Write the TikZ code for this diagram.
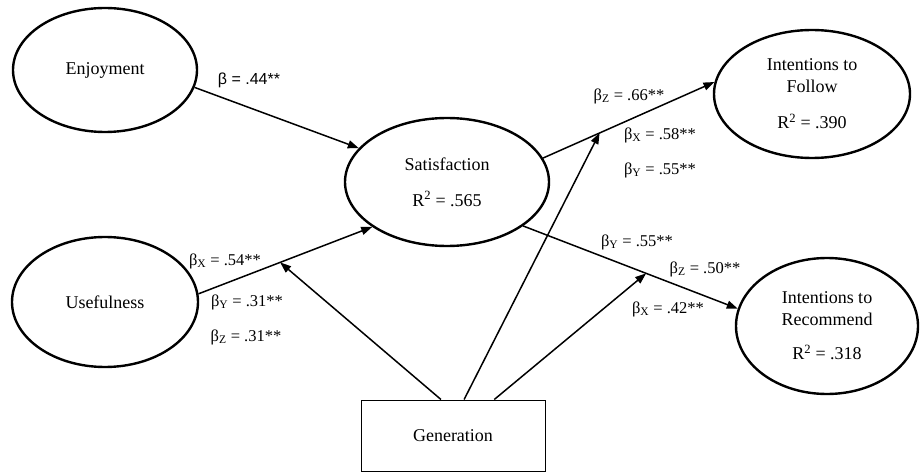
\documentclass[tikz,border=0pt]{standalone}
\usepackage{fontspec}
\setmainfont{Liberation Serif}
\newfontfamily\sansf{Liberation Sans}
\usetikzlibrary{arrows.meta,calc,shapes.geometric}
\begin{document}
\begin{tikzpicture}[x=1pt,y=-1pt,
  var/.style={ellipse, draw, line width=2.4pt, inner sep=0pt, align=center,
    font=\fontsize{18}{22}\selectfont},
  genbox/.style={draw, line width=1pt, inner sep=0pt, font=\fontsize{18}{22}\selectfont},
  arr/.style={-{Triangle[length=11pt,width=8pt]}, line width=1.5pt},
  lab/.style={inner sep=0pt, font=\fontsize{16.5}{18}\selectfont}]
\useasboundingbox (0,0) rectangle (923,473);

\node[var, minimum width=184pt, minimum height=124pt] (enj) at (105,70) {Enjoyment};
\node[var, minimum width=186pt, minimum height=130pt] (use) at (105,302) {Usefulness};
\node[var, minimum width=204pt, minimum height=128pt] (sat) at (447,182)
  {Satisfaction\\[14pt]R\textsuperscript{2} = .565};
\node[var, minimum width=196pt, minimum height=128pt] (fol) at (812,94)
  {Intentions to\\Follow\\[14pt]R\textsuperscript{2} = .390};
\node[var, minimum width=182pt, minimum height=136pt] (rec) at (827,326)
  {Intentions to\\Recommend\\[12pt]R\textsuperscript{2} = .318};
\node[genbox, minimum width=184pt, minimum height=71pt] (gen) at (453,435.5) {Generation};

\draw[arr] (enj.-11) -- (sat.159);
\draw[arr] (use.5) -- coordinate[pos=0.47] (m1) (sat.211);
\draw[arr] (sat.14) -- coordinate[pos=0.33] (m2) (fol.173);
\draw[arr] (sat.-30) -- coordinate[pos=0.573] (m3) (rec.169);

\draw[arr] ($(gen.north west)!0.435!(gen.north east)$) -- (m1);
\draw[arr] ($(gen.north west)!0.56!(gen.north east)$) -- (m2);
\draw[arr] ($(gen.north west)!0.723!(gen.north east)$) -- (m3);

\node[lab, font=\sansf\fontsize{16}{18}\selectfont] (l1) at (249,80) {β = .44**};
\node[lab] (l2) at (225,261) {β\textsubscript{X} = .54**};
\node[lab] (l3) at (247,302) {β\textsubscript{Y} = .31**};
\node[lab] (l4) at (246,337) {β\textsubscript{Z} = .31**};
\node[lab] (l5) at (629,96) {β\textsubscript{Z} = .66**};
\node[lab] (l6) at (660,135) {β\textsubscript{X} = .58**};
\node[lab] (l7) at (660,170) {β\textsubscript{Y} = .55**};
\node[lab] (l8) at (637,242) {β\textsubscript{Y} = .55**};
\node[lab] (l9) at (705,269) {β\textsubscript{Z} = .50**};
\node[lab] (l10) at (668,309) {β\textsubscript{X} = .42**};
\end{tikzpicture}
\end{document}
